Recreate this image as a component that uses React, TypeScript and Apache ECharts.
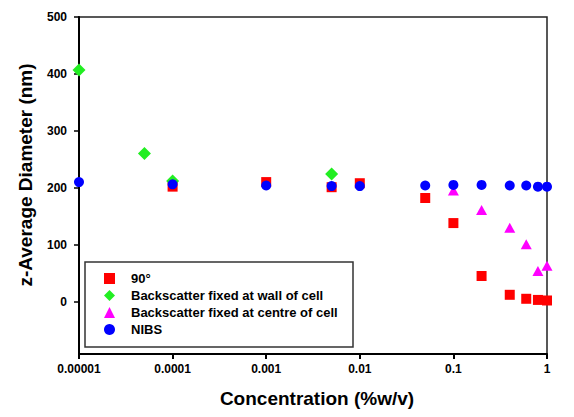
import React, { useEffect, useRef } from "react";
import * as echarts from "echarts";

const seriesNames = [
  "90°",
  "Backscatter fixed at wall of cell",
  "Backscatter fixed at centre of cell",
  "NIBS",
];

const conc90 = [0.0001, 0.001, 0.005, 0.01, 0.05, 0.1, 0.2, 0.4, 0.6, 0.8, 1];
const val90 = [202, 210, 201, 208, 182, 138, 45, 12, 5, 3, 2];

const concWall = [0.00001, 0.00005, 0.0001, 0.005];
const valWall = [407, 260, 212, 224];

const concCentre = [0.1, 0.2, 0.4, 0.6, 0.8, 1];
const valCentre = [195, 161, 130, 101, 54, 63];

const concNibs = [0.00001, 0.0001, 0.001, 0.005, 0.01, 0.05, 0.1, 0.2, 0.4, 0.6, 0.8, 1];
const valNibs = [210, 206, 204, 203, 203, 204, 205, 205, 204, 204, 202, 202];

const xTickLabels = ["0.00001", "0.0001", "0.001", "0.01", "0.1", "1"];
const yTickValues = [0, 100, 200, 300, 400, 500];

const xTitle = "Concentration (%w/v)";
const yTitle = "z-Average Diameter (nm)";

const FONT = 'Arial, "Liberation Sans", sans-serif';

function pairs(xs: number[], ys: number[]) {
  return xs.map((x, i) => [x, ys[i]]);
}

export default function App() {
  const ref = useRef<HTMLDivElement>(null);

  useEffect(() => {
    if (!ref.current) return;
    const chart = echarts.init(ref.current, undefined, { renderer: "svg" });
    const option: any = {
      animation: false,
      backgroundColor: "#ffffff",
      textStyle: { fontFamily: FONT },
      grid: {
        left: 79,
        top: 17,
        width: 468,
        height: 337,
        show: true,
        borderColor: "#222",
        borderWidth: 1.5,
        backgroundColor: "transparent",
      },
      xAxis: {
        type: "log",
        logBase: 10,
        min: 0.00001,
        max: 1,
        axisLine: { show: true, onZero: false, lineStyle: { color: "#000", width: 2 } },
        axisTick: { show: true, inside: false, length: 5, lineStyle: { color: "#000", width: 2 } },
        minorTick: { show: false },
        splitLine: { show: false },
        axisLabel: {
          margin: 9,
          fontFamily: FONT,
          fontWeight: "bold",
          fontSize: 12,
          color: "#000",
          formatter: (v: number) => {
            const idx = Math.round(Math.log10(v)) + 5;
            return xTickLabels[idx] ?? "";
          },
        },
      },
      yAxis: {
        type: "value",
        min: -92,
        max: 500,
        axisLine: { show: true, onZero: false, lineStyle: { color: "#000", width: 2 } },
        axisTick: {
          show: true,
          inside: false,
          length: 5,
          customValues: yTickValues,
          lineStyle: { color: "#000", width: 1.5 },
        },
        splitLine: { show: false },
        axisLabel: {
          margin: 12,
          customValues: yTickValues,
          fontFamily: FONT,
          fontWeight: "bold",
          fontSize: 12,
          color: "#000",
        },
      },
      legend: {
        orient: "vertical",
        left: 104,
        top: 272,
        padding: 0,
        itemWidth: 11,
        itemHeight: 11,
        itemGap: 4,
        symbolKeepAspect: true,
        data: seriesNames,
        textStyle: {
          fontFamily: FONT,
          fontWeight: "bold",
          fontSize: 13,
          color: "#000",
          padding: [0, 0, 0, 11],
        },
      },
      graphic: [
        {
          type: "rect",
          z: 1,
          shape: { x: 85, y: 262, width: 268, height: 85 },
          style: { fill: "#fff", stroke: "#333", lineWidth: 1.5 },
        },
        {
          type: "text",
          x: 317,
          y: 398,
          style: {
            text: xTitle,
            font: `bold 19px ${FONT}`,
            fill: "#000",
            align: "center",
            verticalAlign: "middle",
          },
        },
        {
          type: "text",
          x: 25,
          y: 175,
          rotation: Math.PI / 2,
          style: {
            text: yTitle,
            font: `bold 19px ${FONT}`,
            fill: "#000",
            align: "center",
            verticalAlign: "middle",
          },
        },
      ],
      series: [
        {
          name: seriesNames[0],
          type: "scatter",
          clip: false,
          symbol: "rect",
          symbolSize: 10,
          itemStyle: { color: "#ff0000", opacity: 1 },
          data: pairs(conc90, val90),
          z: 3,
        },
        {
          name: seriesNames[1],
          type: "scatter",
          clip: false,
          symbol: "diamond",
          symbolSize: 13,
          itemStyle: { color: "#22ee22", opacity: 1 },
          data: pairs(concWall, valWall),
          z: 3,
        },
        {
          name: seriesNames[2],
          type: "scatter",
          clip: false,
          symbol: "triangle",
          symbolSize: [11, 10],
          itemStyle: { color: "#ff00ff", opacity: 1 },
          data: pairs(concCentre, valCentre),
          z: 3,
        },
        {
          name: seriesNames[3],
          type: "scatter",
          clip: false,
          symbol: "circle",
          symbolSize: 10,
          itemStyle: { color: "#0000ff", opacity: 1 },
          data: pairs(concNibs, valNibs),
          z: 3,
        },
      ],
    };
    chart.setOption(option);
    return () => chart.dispose();
  }, []);

  return (
    <div
      ref={ref}
      style={{ position: "fixed", left: 0, top: 0, width: 574, height: 417 }}
    />
  );
}
